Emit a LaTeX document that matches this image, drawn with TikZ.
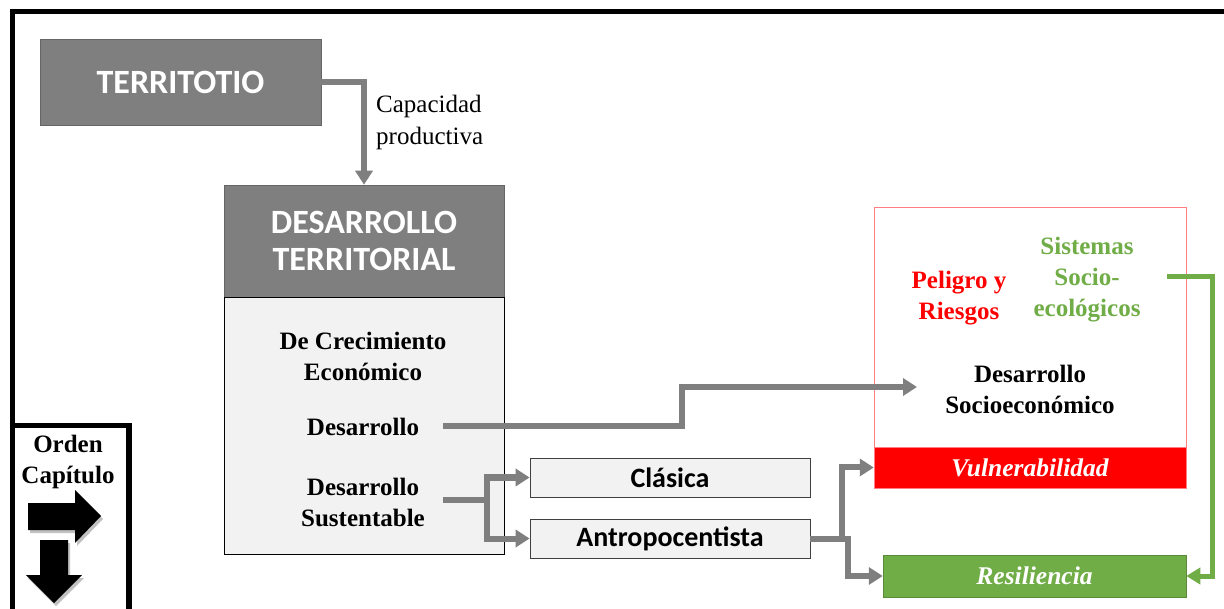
\documentclass[tikz,border=0pt]{standalone}
\usepackage{fontspec}
\setmainfont{Liberation Serif}
\newfontfamily\calfont{Carlito}
\usetikzlibrary{arrows.meta}
\definecolor{boxgray}{HTML}{7F7F7F}
\definecolor{lightfill}{HTML}{F2F2F2}
\definecolor{grn}{HTML}{70AD47}
\definecolor{redc}{HTML}{FF0000}
\definecolor{redline}{HTML}{FF7C80}
\begin{document}
\begin{tikzpicture}[x=1pt,y=-1pt,
  garrow/.style={draw=boxgray, line width=6pt, -{Triangle[length=14pt,width=17pt]}},
  grnarrow/.style={draw=grn, line width=5pt, -{Triangle[length=14pt,width=16pt]}},
  headbox/.style={draw=black!60, line width=0.6pt, fill=boxgray, text=white, inner sep=0pt, align=center,
    font=\calfont\bfseries\fontsize{34}{37}\selectfont},
  subbox/.style={draw=black!75, line width=0.8pt, fill=lightfill, inner sep=0pt, minimum width=280pt, minimum height=39pt,
    font=\calfont\bfseries\fontsize{28}{30}\selectfont},
  sertext/.style={align=center, inner sep=0pt, font=\bfseries\fontsize{25}{31}\selectfont},
  frame/.style={draw=black, line width=5.5pt}
]
\useasboundingbox (0,0) rectangle (1224,609);
\fill[white] (0,0) rectangle (1224,609);

% outer frame
\draw[frame] (12.5,612) -- (12.5,11.5) -- (1230,11.5);
% Orden box
\draw[frame] (12.5,612) -- (12.5,425.5) -- (129,425.5) -- (129,612);

% Orden Capitulo
\node[sertext] (orden) at (68,462) {Orden\\Capítulo};
% block arrows with soft shadow
\fill[black!40, opacity=0.6] (30,506) -- (77,506) -- (77,493) -- (103,519) -- (77,546) -- (77,533) -- (30,533) -- cycle;
\fill[black] (28,503) -- (75,503) -- (75,490) -- (101,516) -- (75,543) -- (75,530) -- (28,530) -- cycle;
\fill[black!40, opacity=0.6] (42,543) -- (70,543) -- (70,578) -- (84,578) -- (56,606) -- (28,578) -- (42,578) -- cycle;
\fill[black] (40,540) -- (68,540) -- (68,575) -- (82,575) -- (54,603) -- (26,575) -- (40,575) -- cycle;

% TERRITOTIO
\node[headbox, minimum width=281pt, minimum height=86pt] (terr) at (180.5,82) {TERRITOTIO};

% DESARROLLO TERRITORIAL
\node[headbox, minimum width=280pt, minimum height=112pt] (dt) at (364,241) {DESARROLLO\\TERRITORIAL};
\node[draw=black, line width=0.8pt, fill=lightfill, minimum width=280pt, minimum height=257pt, inner sep=0pt] (body) at (364,425.5) {};

\draw[garrow] (terr.east) -| (dt.north);
\node[anchor=west, align=left, inner sep=0pt, font=\fontsize{25}{32}\selectfont] (cap) at (376,122) {Capacidad\\productiva};

\node[sertext] (dce) at (363,356) {De Crecimiento\\Económico};
\node[sertext] (desa) at (363,427) {Desarrollo};
\node[sertext] (dsus) at (363,502) {Desarrollo\\Sustentable};

% Clasica / Antropocentista
\node[subbox] (clas) at (670,477.5) {Clásica};
\node[subbox] (antr) at (670,538.5) {Antropocentista};

% red box
\node[draw=redline, line width=0.8pt, minimum width=312pt, minimum height=281pt, inner sep=0pt] (rbox) at (1030,347.5) {};
\node[fill=redc, draw=redline, line width=0.5pt, minimum width=312pt, minimum height=41pt, inner sep=0pt, text=white,
  font=\bfseries\itshape\fontsize{25.5}{28}\selectfont] (vul) at (1030,467.5) {Vulnerabilidad};
\node[sertext, text=redc] (peli) at (959,298) {Peligro y\\Riesgos};
\node[sertext, text=grn] (sist) at (1087,280) {Sistemas\\Socio-\\ecológicos};
\node[sertext] (dsoc) at (1030,389) {Desarrollo\\Socioeconómico};

% Resiliencia
\node[fill=grn, draw=grn!80!black, line width=0.5pt, minimum width=303pt, minimum height=42pt, inner sep=0pt, text=white,
  font=\bfseries\itshape\fontsize{25.5}{28}\selectfont] (res) at (1034.5,576) {Resiliencia};

% connectors
\coordinate (d1) at (443,426);
\coordinate (d2) at (917,387);
\draw[garrow] (d1) -- (682,426) |- (d2);

\coordinate (s1) at (443,500);
\coordinate (s2) at (487,500);
\draw[garrow] (s1) -- (s2) |- (clas.west);
\draw[garrow] (s1) -- (s2) |- (antr.west);

\coordinate (a1) at (842,538.5);
\coordinate (a2) at (848,538.5);
\draw[garrow] (antr.east) -- (a1) |- (vul.west);
\draw[garrow] (antr.east) -- (a2) |- (res.west);

\coordinate (g1) at (1167,277);
\coordinate (g2) at (1212,277);
\draw[grnarrow] (g1) -- (g2) |- (res.east);
\end{tikzpicture}
\end{document}
